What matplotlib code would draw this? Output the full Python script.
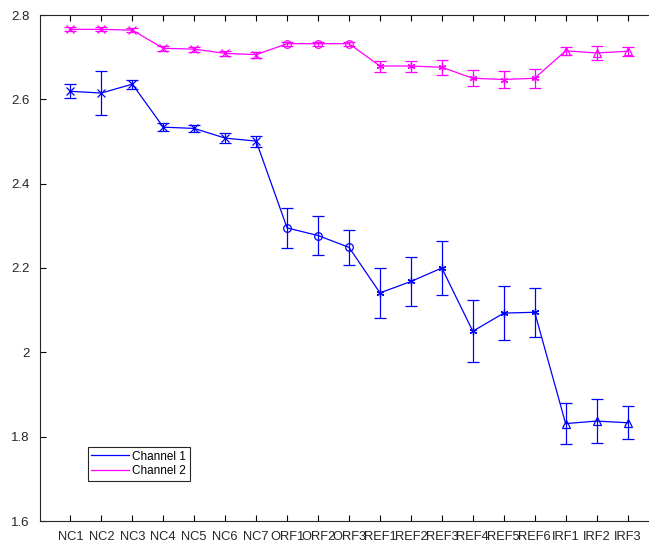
import numpy as np
import matplotlib.pyplot as plt

plt.rcParams['font.family'] = ['Liberation Sans', 'DejaVu Sans']

labels = ['NC1', 'NC2', 'NC3', 'NC4', 'NC5', 'NC6', 'NC7',
          'ORF1', 'ORF2', 'ORF3',
          'REF1', 'REF2', 'REF3', 'REF4', 'REF5', 'REF6',
          'IRF1', 'IRF2', 'IRF3']
groups = [('NC', 0, 7, 'x'), ('ORF', 7, 10, 'o'), ('REF', 10, 16, (6, 2, 0)), ('IRF', 16, 19, '^')]

ch1 = [2.619, 2.615, 2.636, 2.534, 2.531, 2.508, 2.501,
       2.295, 2.277, 2.249,
       2.141, 2.168, 2.200, 2.050, 2.093, 2.095,
       1.831, 1.837, 1.833]
ch1_err = [0.017, 0.052, 0.011, 0.010, 0.008, 0.012, 0.013,
           0.048, 0.046, 0.041,
           0.060, 0.057, 0.063, 0.073, 0.064, 0.058,
           0.049, 0.053, 0.039]
ch2 = [2.766, 2.766, 2.764, 2.721, 2.719, 2.709, 2.706,
       2.732, 2.732, 2.732,
       2.679, 2.679, 2.676, 2.650, 2.647, 2.650,
       2.715, 2.710, 2.714]
ch2_err = [0.005, 0.005, 0.005, 0.006, 0.006, 0.006, 0.007,
           0.005, 0.005, 0.005,
           0.013, 0.013, 0.018, 0.019, 0.021, 0.022,
           0.010, 0.017, 0.011]

x = np.arange(1, len(labels) + 1)

fig = plt.figure(figsize=(6.49, 5.45), dpi=100)
# reference is cut off on the right, so the axes stop at the figure edge
# with no right spine (x = 20 would sit just past the edge)
w = 609.5
ax = fig.add_axes([39.5 / 649, 24 / 545, w / 649, 506 / 545])

series = [('Channel 1', ch1, ch1_err, (0, 0, 1)), ('Channel 2', ch2, ch2_err, (1, 0, 1))]
for name, y, err, col in series:
    y = np.array(y)
    err = np.array(err)
    ax.plot(x, y, color=col, lw=0.9, label=name)
    for g, a, b, m in groups:
        ax.errorbar(x[a:b], y[a:b], yerr=err[a:b], fmt='none', ecolor=col,
                    elinewidth=0.9, capsize=4.5, capthick=0.9)
        ax.plot(x[a:b], y[a:b], ls='none', marker=m, color=col, mfc='none',
                ms=5.5, mew=0.9)

ax.set_xlim(0, 20 * w / 619)
ax.set_ylim(1.6, 2.8)
ax.set_xticks(x)
ax.set_xticklabels(labels, fontsize=9.3, color='#262626')
ax.set_yticks([1.6, 1.8, 2.0, 2.2, 2.4, 2.6, 2.8])
ax.set_yticklabels(['1.6', '1.8', '2', '2.2', '2.4', '2.6', '2.8'], fontsize=9.5, color='#262626')
ax.tick_params(direction='in', top=True, right=False, length=4.5, width=0.8, pad=7)
ax.spines['right'].set_visible(False)
for s in ax.spines.values():
    s.set_linewidth(0.8)
    s.set_color('#262626')

leg = ax.legend(loc='lower left', bbox_to_anchor=(48 / w, 0.08), fontsize=8.5,
                fancybox=False, framealpha=1, edgecolor='#262626',
                handlelength=3.2, handletextpad=0.3, borderpad=0.3,
                labelspacing=0.2, borderaxespad=0)
leg.get_frame().set_linewidth(0.8)

fig.savefig('out.png', dpi=100)
